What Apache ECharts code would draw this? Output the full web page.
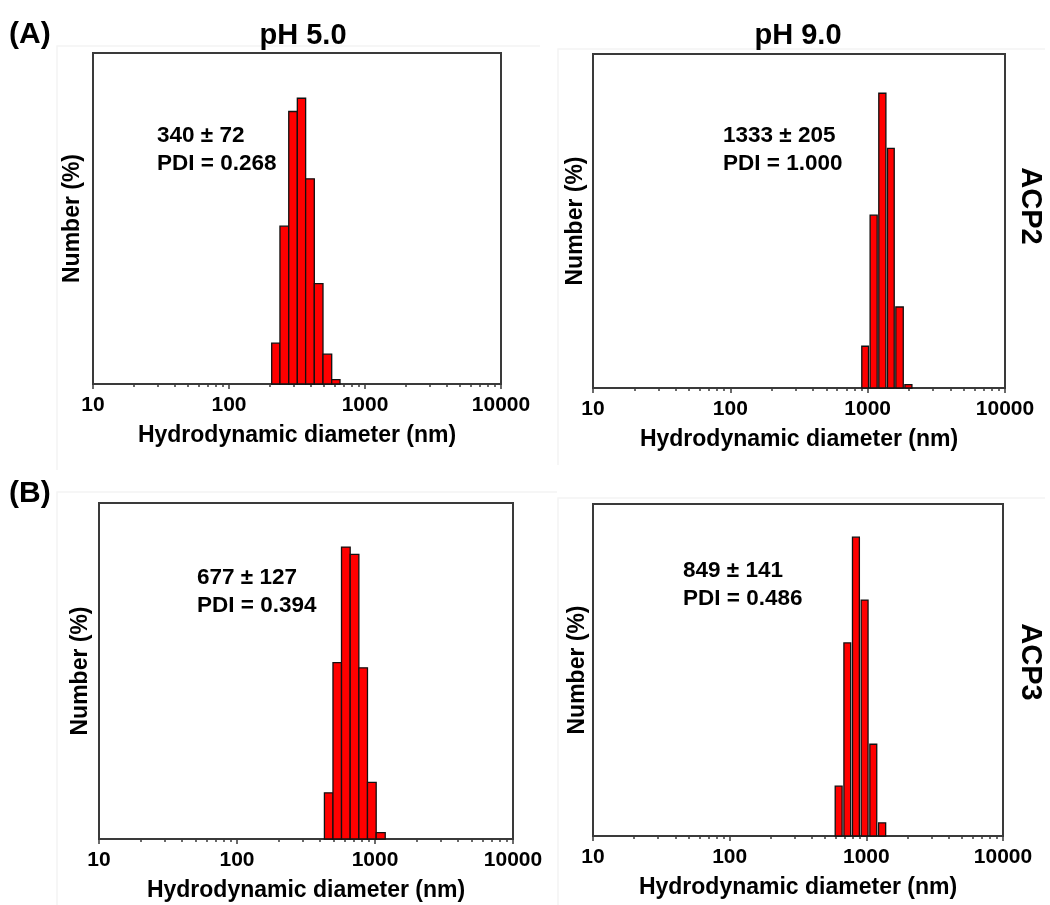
<!DOCTYPE html>
<html lang="en">
<head>
<meta charset="UTF-8">
<title>Hydrodynamic diameter distributions</title>
<script src="https://cdn.jsdelivr.net/npm/echarts@6/dist/echarts.min.js"></script>
<style>
  html, body { margin: 0; padding: 0; background: #fff; }
  #main { width: 1050px; height: 905px; }
</style>
</head>
<body>
<div id="main"></div>
<script>
// bin edges (nm) and number % per bin
var acp2Ph5Edges = [206, 237, 275, 318, 366, 424, 491, 569, 655];
var acp2Ph5Values = [3.7, 14.3, 24.7, 25.9, 18.6, 9.1, 2.7, 0.4];

var acp2Ph9Edges = [894, 1028, 1189, 1376, 1582, 1841, 2128];
var acp2Ph9Values = [5.0, 20.7, 35.3, 28.7, 9.7, 0.4];

var acp3Ph5Edges = [430, 496, 572, 661, 764, 882, 1020, 1186];
var acp3Ph5Values = [4.4, 16.8, 27.8, 27.1, 16.3, 5.4, 0.6];

var acp3Ph9Edges = [583, 675, 780, 903, 1045, 1210, 1406];
var acp3Ph9Values = [5.7, 22.1, 34.2, 27.0, 10.5, 1.5];

var yMaxes = [30, 40, 32, 38];
var xMin = 10, xMax = 10000;

var sizeNotes = ['340 ± 72', '1333 ± 205', '677 ± 127', '849 ± 141'];
var pdiNotes = ['PDI = 0.268', 'PDI = 1.000', 'PDI = 0.394', 'PDI = 0.486'];
var phTitles = ['pH 5.0', 'pH 9.0'];
var rowTitles = ['ACP2', 'ACP3'];
var panelTags = ['(A)', '(B)'];

var FONT = "'Liberation Sans', Arial, sans-serif";

function bins(edges, values) {
  var out = [];
  for (var i = 0; i < values.length; i++) {
    out.push([edges[i], edges[i + 1], values[i]]);
  }
  return out;
}

var panels = [
  { data: bins(acp2Ph5Edges, acp2Ph5Values), grid: { left: 93, top: 53, width: 408, height: 331 }, gap: 0, nameGap: 9 },
  { data: bins(acp2Ph9Edges, acp2Ph9Values), grid: { left: 593, top: 54, width: 412, height: 334 }, gap: 1.6, nameGap: 6 },
  { data: bins(acp3Ph5Edges, acp3Ph5Values), grid: { left: 99, top: 503, width: 414, height: 336 }, gap: 0, nameGap: 7 },
  { data: bins(acp3Ph9Edges, acp3Ph9Values), grid: { left: 593, top: 504, width: 410, height: 332 }, gap: 1.8, nameGap: 4 }
];

function renderBar(gap) {
  return function (params, api) {
    var p0 = api.coord([api.value(0), 0]);
    var p1 = api.coord([api.value(1), api.value(2)]);
    return {
      type: 'rect',
      shape: {
        x: p0[0] + gap / 2,
        y: p1[1],
        width: p1[0] - p0[0] - gap,
        height: p0[1] - p1[1]
      },
      style: { fill: '#ff0000', stroke: '#111', lineWidth: 1.3 }
    };
  };
}

var grids = [], xAxes = [], yAxes = [], series = [];
panels.forEach(function (p, i) {
  grids.push({
    left: p.grid.left, top: p.grid.top, width: p.grid.width, height: p.grid.height,
    show: true, borderColor: '#3a3a3a', borderWidth: 2, backgroundColor: 'transparent'
  });
  xAxes.push({
    gridIndex: i,
    type: 'log',
    logBase: 10,
    min: xMin,
    max: xMax,
    name: 'Hydrodynamic diameter (nm)',
    nameLocation: 'middle',
    nameGap: 40,
    nameTextStyle: { fontFamily: FONT, fontWeight: 'bold', fontSize: 23, color: '#000' },
    axisLine: { show: true, lineStyle: { color: '#3a3a3a', width: 2 } },
    axisTick: { show: true, inside: false, length: 5, lineStyle: { color: '#3a3a3a', width: 1.5 } },
    minorTick: { show: true, splitNumber: 9, length: 3, lineStyle: { color: '#3a3a3a', width: 1.5 } },
    splitLine: { show: false },
    axisLabel: {
      margin: 11,
      fontFamily: FONT, fontWeight: 'bold', fontSize: 21, color: '#000',
      formatter: function (v) { return String(Math.round(v)); }
    }
  });
  yAxes.push({
    gridIndex: i,
    type: 'value',
    min: 0,
    max: yMaxes[i],
    name: 'Number (%)',
    nameLocation: 'middle',
    nameGap: p.nameGap,
    nameTextStyle: { fontFamily: FONT, fontWeight: 'bold', fontSize: 23, color: '#000' },
    axisLine: { show: true, lineStyle: { color: '#3a3a3a', width: 2 } },
    axisTick: { show: false },
    axisLabel: { show: false },
    splitLine: { show: false }
  });
  series.push({
    type: 'custom',
    xAxisIndex: i,
    yAxisIndex: i,
    renderItem: renderBar(p.gap),
    encode: { x: [0, 1], y: 2 },
    data: p.data,
    clip: false
  });
});

function label(text, x, y, size, extra) {
  var o = {
    type: 'text',
    x: x, y: y,
    style: {
      text: text,
      fontFamily: FONT, fontWeight: 'bold', fontSize: size, fill: '#000',
      align: 'left', verticalAlign: 'middle'
    }
  };
  if (extra) {
    for (var k in extra.style || {}) o.style[k] = extra.style[k];
    if (extra.rotation !== undefined) o.rotation = extra.rotation;
  }
  return o;
}

var noteSpots = [[157, 136], [723, 136], [197, 578], [683, 571]];

var graphics = [
  // faint frames around each sub-figure
  { type: 'polyline', shape: { points: [[57, 470], [57, 46], [540, 46]] }, style: { stroke: '#f4f4f4', lineWidth: 1.5, fill: null } },
  { type: 'polyline', shape: { points: [[558, 465], [558, 49], [1045, 49]] }, style: { stroke: '#f4f4f4', lineWidth: 1.5, fill: null } },
  { type: 'polyline', shape: { points: [[57, 905], [57, 492], [557, 492]] }, style: { stroke: '#f4f4f4', lineWidth: 1.5, fill: null } },
  { type: 'polyline', shape: { points: [[558, 905], [558, 498], [1045, 498]] }, style: { stroke: '#f4f4f4', lineWidth: 1.5, fill: null } },
  label(panelTags[0], 9, 35, 30),
  label(panelTags[1], 9, 494, 30),
  label(phTitles[0], 303, 36, 29, { style: { align: 'center' } }),
  label(phTitles[1], 798, 36, 29, { style: { align: 'center' } }),
  label(rowTitles[0], 1030, 206, 29, { style: { align: 'center' }, rotation: -Math.PI / 2 }),
  label(rowTitles[1], 1030, 662, 29, { style: { align: 'center' }, rotation: -Math.PI / 2 })
];
noteSpots.forEach(function (s, i) {
  graphics.push(label(sizeNotes[i], s[0], s[1], 22.5));
  graphics.push(label(pdiNotes[i], s[0], s[1] + 27.5, 22.5));
});

var chart = echarts.init(document.getElementById('main'), null, { renderer: 'canvas' });
chart.setOption({
  backgroundColor: '#fff',
  animation: false,
  grid: grids,
  xAxis: xAxes,
  yAxis: yAxes,
  series: series,
  graphic: graphics
});
</script>
</body>
</html>
